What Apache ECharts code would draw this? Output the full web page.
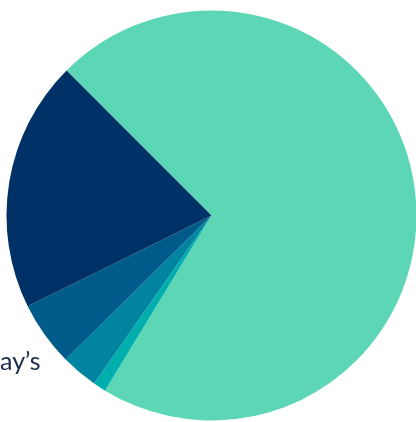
<!DOCTYPE html>
<html>
<head>
<meta charset="utf-8">
<script src="https://cdn.jsdelivr.net/npm/echarts@6/dist/echarts.min.js"></script>
<style>
html,body{margin:0;padding:0;background:#ffffff;}
#chart{width:416px;height:422px;}
</style>
</head>
<body>
<div id="chart"></div>
<script>
var categories = ['Green', 'Cyan', 'Teal', 'Blue', 'Navy'];
var values = [71.2, 1.0, 2.9, 5.1, 19.8];
var colors = ['#5dd6b5', '#00afad', '#00849f', '#005b8a', '#003166'];
var labelText = 'ay\u2019s';

var chart = echarts.init(document.getElementById('chart'), null, {renderer: 'canvas'});
chart.setOption({
  animation: false,
  backgroundColor: '#ffffff',
  series: [{
    type: 'pie',
    center: [211.5, 215.5],
    radius: 205,
    startAngle: 135,
    clockwise: true,
    label: {show: false},
    labelLine: {show: false},
    itemStyle: {borderWidth: 0},
    emphasis: {disabled: true},
    data: categories.map(function (c, i) {
      return {name: c, value: values[i], itemStyle: {color: colors[i]}};
    })
  }],
  graphic: [{
    type: 'text',
    left: 0,
    top: 349,
    style: {
      text: labelText,
      font: '25px Lato',
      fill: '#1c2a4d'
    }
  }]
});
</script>
</body>
</html>
